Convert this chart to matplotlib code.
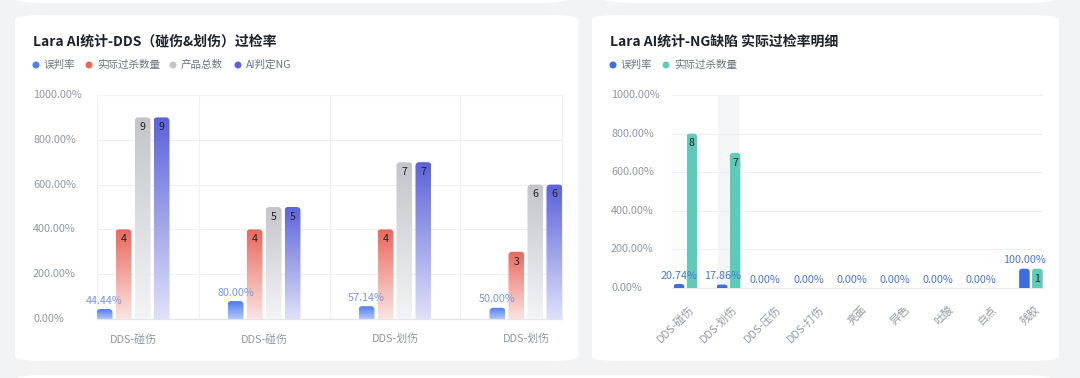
import numpy as np
import matplotlib
matplotlib.use("Agg")
import matplotlib.pyplot as plt
from matplotlib.patches import FancyBboxPatch, PathPatch, Ellipse
from matplotlib.path import Path
from matplotlib.colors import LinearSegmentedColormap
import matplotlib.transforms as mtransforms

plt.rcParams['font.family'] = ['Noto Sans CJK SC', 'DejaVu Sans']

# ---------------- data ----------------
left_title = "Lara AI统计-DDS（碰伤&划伤）过检率"
left_categories = ['DDS-碰伤', 'DDS-碰伤', 'DDS-划伤', 'DDS-划伤']
left_rate = [44.44, 80.00, 57.14, 50.00]      # 误判率 (%)
left_actual = [4, 4, 4, 3]                    # 实际过杀数量
left_total = [9, 5, 7, 6]                     # 产品总数
left_ai_ng = [9, 5, 7, 6]                     # AI判定NG
left_legend = ['误判率', '实际过杀数量', '产品总数', 'AI判定NG']

right_title = "Lara AI统计-NG缺陷 实际过检率明细"
right_categories = ['DDS-碰伤', 'DDS-划伤', 'DDS-压伤', 'DDS-打伤', '亮面', '异色', '吐酸', '白点', '残胶']
right_rate = [20.74, 17.86, 0.00, 0.00, 0.00, 0.00, 0.00, 0.00, 100.00]
right_actual = [8, 7, 0, 0, 0, 0, 0, 0, 1]
right_legend = ['误判率', '实际过杀数量']

y_ticks = [0, 200, 400, 600, 800, 1000]

W, H = 1080, 378
fig = plt.figure(figsize=(W / 100, H / 100), dpi=100)
fig.patch.set_facecolor('#f2f3f5')


def fx(x):
    return x / W


def fy(y):
    return 1 - y / H


def card(x0, y0, x1, y1, r=12):
    p = FancyBboxPatch((fx(x0), fy(y1)), fx(x1) - fx(x0), fy(y0) - fy(y1),
                       boxstyle=f"round,pad=0,rounding_size={r / H}",
                       transform=fig.transFigure, facecolor='white',
                       edgecolor='none', zorder=-5)
    p.set_mutation_aspect(H / W)
    fig.patches.append(p)


# cards (top partial, main two, bottom partial)
card(15, -30, 568, 3)
card(604, -30, 1055, 3)
card(15, 15, 578, 361)
card(592, 15, 1059, 361)
card(15, 375, 1052, 420)

TITLE_C = '#1d2129'
LEG_C = '#6b7280'
TICK_C = '#9097a3'
GRID_C = '#eef0f3'


def legend(items, colors, xs_dot, xs_text, y):
    for lab, c, xd, xt in zip(items, colors, xs_dot, xs_text):
        fig.patches.append(Ellipse((fx(xd), fy(y)), 7 / W, 7 / H,
                                   transform=fig.transFigure,
                                   facecolor=c, edgecolor='none', zorder=2))
        fig.text(fx(xt), fy(y), lab, fontsize=7.6, color=LEG_C, va='center', ha='left')


def rounded_path(x0, x1, y0, y1, rx, ry):
    h = y1 - y0
    ry = min(ry, h / 2)
    k = 0.5523
    verts = [(x0, y0), (x0, y1 - ry), (x0, y1 - ry + k * ry), (x0 + rx - k * rx, y1), (x0 + rx, y1),
             (x1 - rx, y1), (x1 - rx + k * rx, y1), (x1, y1 - ry + k * ry), (x1, y1 - ry),
             (x1, y0), (x0, y0)]
    codes = [Path.MOVETO, Path.LINETO, Path.CURVE4, Path.CURVE4, Path.CURVE4,
             Path.LINETO, Path.CURVE4, Path.CURVE4, Path.CURVE4, Path.LINETO, Path.CLOSEPOLY]
    return Path(verts, codes)


def draw_bars(ax, bars, top_color, bottom_color, ax_w_px, ax_h_px, r_px=3.5):
    xl = ax.get_xlim()
    yl = ax.get_ylim()
    rx = r_px * (xl[1] - xl[0]) / ax_w_px
    ry = r_px * (yl[1] - yl[0]) / ax_h_px
    cmap = LinearSegmentedColormap.from_list('g', [bottom_color, top_color])
    grad = np.linspace(0, 1, 256).reshape(-1, 1)
    for rect in bars:
        rect.set_visible(False)
        x0 = rect.get_x()
        x1 = x0 + rect.get_width()
        h = rect.get_height()
        if h <= 0:
            continue
        path = rounded_path(x0, x1, 0, h, min(rx, (x1 - x0) / 2), ry)
        pp = PathPatch(path, facecolor='none', edgecolor='none', transform=ax.transData)
        ax.add_patch(pp)
        im = ax.imshow(grad, extent=(x0, x1, 0, h), origin='lower', aspect='auto',
                       cmap=cmap, vmin=0, vmax=1, zorder=3, interpolation='bilinear')
        im.set_clip_path(pp)
    ax.set_xlim(xl)
    ax.set_ylim(yl)


def add_axes_px(l, t, r, b):
    return fig.add_axes([fx(l), fy(b), fx(r) - fx(l), fy(t) - fy(b)])


# ================= LEFT CHART =================
fig.text(fx(33), fy(42), left_title, fontsize=10, color=TITLE_C, weight='bold', va='center', ha='left')
legend(left_legend, ['#4f7ff0', '#e8685c', '#c3c5c9', '#5b63d9'],
       [36, 89, 173, 238], [44, 97, 181, 246], 65)

axL_l, axL_t, axL_r, axL_b = 97, 95, 562, 319
axL = add_axes_px(axL_l, axL_t, axL_r, axL_b)
axL.set_facecolor('none')
nL = len(left_categories)
xL = np.arange(nL)
axL.set_xlim(-0.275, nL - 1 + 0.275)
axL.set_ylim(0, 1000)
axL.set_yticks(y_ticks)
axL.set_yticklabels([])
axL.set_xticks([])
for v in y_ticks[1:]:
    axL.axhline(v, color=GRID_C, lw=0.8, zorder=1)
for b in [0.5, 1.5, 2.5]:
    axL.axvline(b, color=GRID_C, lw=0.8, zorder=1)
for s in ['top', 'right', 'left']:
    axL.spines[s].set_color(GRID_C)
    axL.spines[s].set_linewidth(0.8)
axL.spines['bottom'].set_color('#e3e5e9')
axL.spines['bottom'].set_linewidth(0.9)
axL.tick_params(length=0)

bw = 0.122
step = 0.145
offs = [-1.5 * step, -0.5 * step, 0.5 * step, 1.5 * step]
series = [
    ([v for v in left_rate], '#4a7cf0', '#b3c8fb'),
    ([v * 100 for v in left_actual], '#e8685c', '#fbe4e1'),
    ([v * 100 for v in left_total], '#c3c5c9', '#f3f4f6'),
    ([v * 100 for v in left_ai_ng], '#5b63d9', '#dfe1f9'),
]
for (vals, ctop, cbot), o in zip(series, offs):
    bars = axL.bar(xL + o, vals, width=bw)
    draw_bars(axL, bars, ctop, cbot, axL_r - axL_l, axL_b - axL_t)

# labels
for i in range(nL):
    axL.annotate(f"{left_rate[i]:.2f}%", (xL[i] + offs[0], left_rate[i]), xytext=(0, 2.5),
                 textcoords='offset points', ha='center', va='bottom', fontsize=7.8,
                 color='#7895ec', zorder=5)
    for k, arr in zip([1, 2, 3], [left_actual, left_total, left_ai_ng]):
        axL.annotate(f"{arr[i]}", (xL[i] + offs[k], arr[i] * 100), xytext=(0, -3.5),
                     textcoords='offset points', ha='center', va='top', fontsize=7.6,
                     color='#222222', zorder=5)

for v in y_ticks:
    fig.text(fx(33), fy(axL_b - (axL_b - axL_t) * v / 1000), f"{v:.2f}%", fontsize=7.8,
             color=TICK_C, ha='left', va='center')
blendL = mtransforms.blended_transform_factory(axL.transData, axL.transAxes)
for i, c in enumerate(left_categories):
    axL.text(xL[i], -0.09, c, transform=blendL,
             ha='center', va='center', fontsize=7.8, color=TICK_C)

# ================= RIGHT CHART =================
fig.text(fx(610), fy(42), right_title, fontsize=10, color=TITLE_C, weight='bold', va='center', ha='left')
legend(right_legend, ['#3d6ee0', '#5ecbb9'], [613, 666], [621, 674], 65)

axR_l, axR_t, axR_r, axR_b = 672, 95, 1043, 288
axR = add_axes_px(axR_l, axR_t, axR_r, axR_b)
axR.set_facecolor('none')
nR = len(right_categories)
xR = np.arange(nR)
axR.set_xlim(-0.31, nR - 1 + 0.28)
axR.set_ylim(0, 1000)
axR.set_yticks(y_ticks)
axR.set_yticklabels([])
axR.set_xticks([])
for v in y_ticks[1:]:
    axR.axhline(v, color=GRID_C, lw=0.8, zorder=1)
for s in ['top', 'right', 'left']:
    axR.spines[s].set_visible(False)
axR.spines['bottom'].set_color('#e6e8eb')
axR.spines['bottom'].set_linewidth(0.8)
axR.tick_params(length=0)
axR.axvspan(1 - 0.25, 1 + 0.25, color='#f4f5f7', zorder=0.5, lw=0)

bwR = 0.245
stepR = 0.30
barsR1 = axR.bar(xR - stepR / 2, right_rate, width=bwR)
draw_bars(axR, barsR1, '#3d6ee0', '#3d6ee0', axR_r - axR_l, axR_b - axR_t, r_px=3)
barsR2 = axR.bar(xR + stepR / 2, [v * 100 for v in right_actual], width=bwR)
draw_bars(axR, barsR2, '#5ecbb9', '#5ecbb9', axR_r - axR_l, axR_b - axR_t, r_px=3)

for i in range(nR):
    axR.annotate(f"{right_rate[i]:.2f}%", (xR[i] - stepR / 2, right_rate[i]), xytext=(0, 2.5),
                 textcoords='offset points', ha='center', va='bottom', fontsize=7.8,
                 color='#4a74dc', zorder=5)
    if right_actual[i] > 0:
        axR.annotate(f"{right_actual[i]}", (xR[i] + stepR / 2, right_actual[i] * 100), xytext=(0, -3.5),
                     textcoords='offset points', ha='center', va='top', fontsize=7.6,
                     color='#222222', zorder=5)

for v in y_ticks:
    fig.text(fx(611), fy(axR_b - (axR_b - axR_t) * v / 1000), f"{v:.2f}%", fontsize=7.8,
             color=TICK_C, ha='left', va='center')
blendR = mtransforms.blended_transform_factory(axR.transData, axR.transAxes)
for i, c in enumerate(right_categories):
    axR.text(xR[i] + 0.16, -0.10, c, transform=blendR, rotation=45, rotation_mode='anchor',
             ha='right', va='center', fontsize=7.8, color=TICK_C)

fig.savefig('out.png', dpi=100, facecolor=fig.get_facecolor())
